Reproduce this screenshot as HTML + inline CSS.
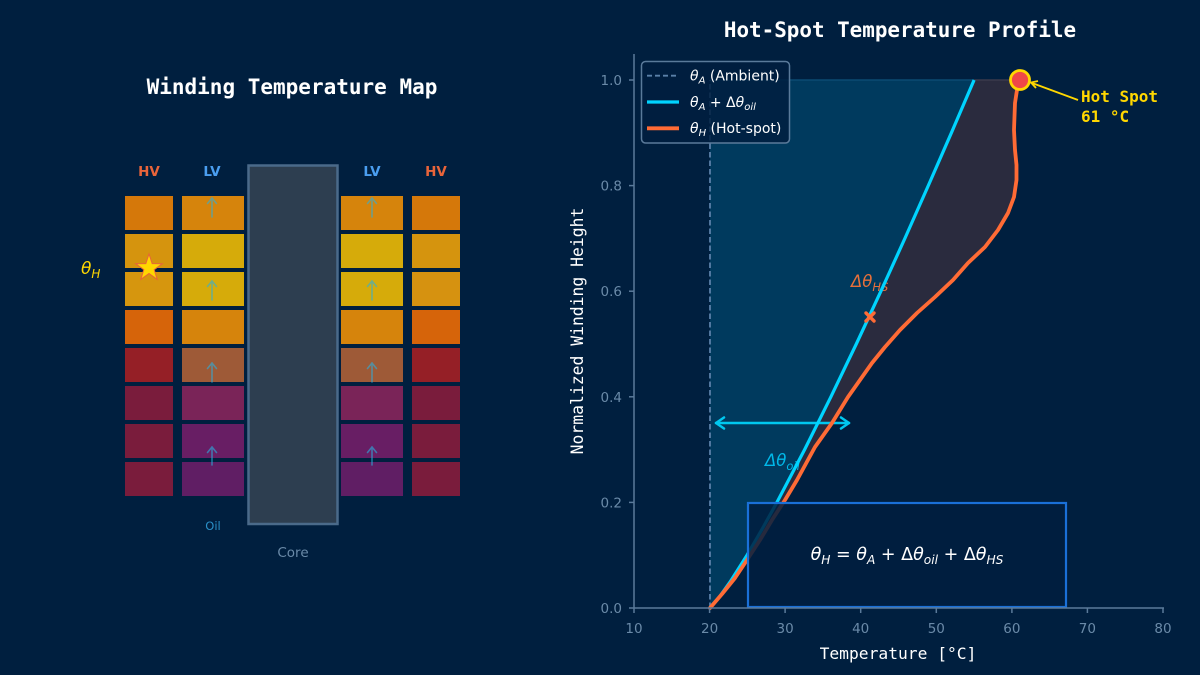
<!DOCTYPE html>
<html><head><meta charset="utf-8"><style>
html,body{margin:0;padding:0;background:#001f3f;}
svg{display:block;}
.mono{font-family:"DejaVu Sans Mono","Liberation Mono",monospace;}
.sans{font-family:"DejaVu Sans","Liberation Sans",sans-serif;}
</style></head><body>
<svg width="1200" height="675" viewBox="0 0 1200 675" xmlns="http://www.w3.org/2000/svg">
<rect width="1200" height="675" fill="#001f3f"/>

<!-- LEFT PANEL -->
<text x="292" y="94" text-anchor="middle" class="mono" font-size="21" font-weight="bold" fill="#ffffff">Winding Temperature Map</text>
<text x="149" y="176" text-anchor="middle" class="sans" font-size="13.5" font-weight="bold" fill="#e8643a">HV</text>
<text x="212" y="176" text-anchor="middle" class="sans" font-size="13.5" font-weight="bold" fill="#4a9ef0">LV</text>
<text x="372" y="176" text-anchor="middle" class="sans" font-size="13.5" font-weight="bold" fill="#4a9ef0">LV</text>
<text x="436" y="176" text-anchor="middle" class="sans" font-size="13.5" font-weight="bold" fill="#e8643a">HV</text>

<!-- core -->
<rect x="248.5" y="165.5" width="89" height="358.5" fill="#2d3e50" stroke="#4a6a8a" stroke-width="2.5"/>

<!-- HV left -->
<g>
<rect x="125" y="196" width="48" height="34" fill="#d5780a"/>
<rect x="125" y="234" width="48" height="34" fill="#d5940e"/>
<rect x="125" y="272" width="48" height="34" fill="#d6960e"/>
<rect x="125" y="310" width="48" height="34" fill="#d6640a"/>
<rect x="125" y="348" width="48" height="34" fill="#951f26"/>
<rect x="125" y="386" width="48" height="34" fill="#7a1c3c"/>
<rect x="125" y="424" width="48" height="34" fill="#7a1c3c"/>
<rect x="125" y="462" width="48" height="34" fill="#7a1c3c"/>
</g>
<!-- LV left -->
<g>
<rect x="182" y="196" width="62" height="34" fill="#d6840c"/>
<rect x="182" y="234" width="62" height="34" fill="#d6ab0a"/>
<rect x="182" y="272" width="62" height="34" fill="#d6ab0a"/>
<rect x="182" y="310" width="62" height="34" fill="#d6840c"/>
<rect x="182" y="348" width="62" height="34" fill="#9e5a37"/>
<rect x="182" y="386" width="62" height="34" fill="#7a2458"/>
<rect x="182" y="424" width="62" height="34" fill="#681e64"/>
<rect x="182" y="462" width="62" height="34" fill="#601e64"/>
</g>
<!-- LV right -->
<g>
<rect x="341" y="196" width="62" height="34" fill="#d6840c"/>
<rect x="341" y="234" width="62" height="34" fill="#d6ab0a"/>
<rect x="341" y="272" width="62" height="34" fill="#d6ab0a"/>
<rect x="341" y="310" width="62" height="34" fill="#d6840c"/>
<rect x="341" y="348" width="62" height="34" fill="#9e5a37"/>
<rect x="341" y="386" width="62" height="34" fill="#7a2458"/>
<rect x="341" y="424" width="62" height="34" fill="#681e64"/>
<rect x="341" y="462" width="62" height="34" fill="#601e64"/>
</g>
<!-- HV right -->
<g>
<rect x="412" y="196" width="48" height="34" fill="#d5780a"/>
<rect x="412" y="234" width="48" height="34" fill="#d5940e"/>
<rect x="412" y="272" width="48" height="34" fill="#d69210"/>
<rect x="412" y="310" width="48" height="34" fill="#d6640a"/>
<rect x="412" y="348" width="48" height="34" fill="#951f26"/>
<rect x="412" y="386" width="48" height="34" fill="#7a1c3c"/>
<rect x="412" y="424" width="48" height="34" fill="#7a1c3c"/>
<rect x="412" y="462" width="48" height="34" fill="#7a1c3c"/>
</g>

<!-- oil arrows -->
<g stroke="#2ab0e0" stroke-width="1.6" fill="none" opacity="0.6" stroke-linecap="round">
<line x1="212" y1="217" x2="212" y2="198"/><polyline points="207.5,203.5 212,198 216.5,203.5"/>
<line x1="212" y1="300" x2="212" y2="281"/><polyline points="207.5,286.5 212,281 216.5,286.5"/>
<line x1="212" y1="382" x2="212" y2="363"/><polyline points="207.5,368.5 212,363 216.5,368.5"/>
<line x1="212" y1="465" x2="212" y2="447"/><polyline points="207.5,452.5 212,447 216.5,452.5"/>
<line x1="372" y1="217" x2="372" y2="198"/><polyline points="367.5,203.5 372,198 376.5,203.5"/>
<line x1="372" y1="300" x2="372" y2="281"/><polyline points="367.5,286.5 372,281 376.5,286.5"/>
<line x1="372" y1="382" x2="372" y2="363"/><polyline points="367.5,368.5 372,363 376.5,368.5"/>
<line x1="372" y1="465" x2="372" y2="447"/><polyline points="367.5,452.5 372,447 376.5,452.5"/>
</g>

<!-- star -->
<polygon points="149,254 152.2,263.6 162.3,263.7 154.2,269.7 157.2,279.4 149,273.5 140.8,279.4 143.8,269.7 135.7,263.7 145.8,263.6" fill="#ffd700" stroke="#e8643a" stroke-width="1"/>
<text x="81" y="274" class="sans" font-size="17" font-style="italic" fill="#ffd700">θ<tspan font-size="12" dy="4">H</tspan></text>

<text x="213" y="530" text-anchor="middle" class="sans" font-size="11.5" fill="#2a90c8">Oil</text>
<text x="293" y="557" text-anchor="middle" class="sans" font-size="13.5" fill="#6a8aa8">Core</text>

<!-- RIGHT PANEL -->
<text x="900" y="37" text-anchor="middle" class="mono" font-size="20.9" font-weight="bold" fill="#ffffff">Hot-Spot Temperature Profile</text>

<!-- fills -->
<polygon fill="#003a5e" points="710,608 710,80 974.1,80 951.4,132.8 928.3,185.6 904.9,238.4 880.9,291.2 856.3,344 830.9,396.8 804.6,449.6 776.9,502.4 762.3,528.8 747,555.2 730.3,581.6 719.1,597.4 709.6,608"/>
<polygon fill="#2a2b3e" points="709.6,608 719.1,597.4 730.3,581.6 747,555.2 762.3,528.8 776.9,502.4 804.6,449.6 830.9,396.8 856.3,344 880.9,291.2 904.9,238.4 928.3,185.6 951.4,132.8 974.1,80 1020,80 1017,90 1015,103 1014,130 1015,150 1016.5,165 1016.5,180 1014,197 1008,213 998,230 985,247 968,263 953,280 935,297 917,313 900,330 885,347 872,363 860,380 848,397 832,423 815,447 797,480 785,500 772,520 760,540 747,560 735,578 722,594 710,608"/>
<line x1="710" y1="80" x2="974" y2="80" stroke="#0a4a72" stroke-width="1.5"/>
<line x1="974" y1="80" x2="1020" y2="80" stroke="#3a3a4c" stroke-width="1.5"/>

<!-- ambient dashed -->
<line x1="710" y1="608" x2="710" y2="80" stroke="#5a80a8" stroke-width="1.8" stroke-dasharray="5.5,3"/>

<!-- annotations inside -->
<g stroke="#00c8f0" stroke-width="2.5" fill="none" stroke-linecap="round" stroke-linejoin="round">
<line x1="716" y1="423" x2="849" y2="423"/>
<polyline points="724,417.5 716,423 724,428.5"/>
<polyline points="841,417.5 849,423 841,428.5"/>
</g>
<text x="765" y="466" class="sans" font-size="16.5" font-style="italic" fill="#00b8e8">Δθ<tspan font-size="11.5" dy="4">oil</tspan></text>
<text x="851" y="287" class="sans" font-size="16.5" font-style="italic" fill="#e8703a">Δθ<tspan font-size="11.5" dy="4">HS</tspan></text>

<!-- blue line -->
<polyline fill="none" stroke="#00d4ff" stroke-width="3.2" stroke-linejoin="round" points="709.6,608 719.1,597.4 730.3,581.6 747,555.2 762.3,528.8 776.9,502.4 804.6,449.6 830.9,396.8 856.3,344 880.9,291.2 904.9,238.4 928.3,185.6 951.4,132.8 974.1,80"/>
<!-- orange line -->
<polyline fill="none" stroke="#ff6b35" stroke-width="3.8" stroke-linejoin="round" stroke-linecap="round" points="710,608 722,594 735,578 747,560 760,540 772,520 785,500 797,480 815,447 832,423 848,397 860,380 872,363 885,347 900,330 917,313 935,297 953,280 968,263 985,247 998,230 1008,213 1014,197 1016.5,180 1016.5,165 1015,150 1014,130 1015,103 1017,90 1020,80"/>

<!-- X marker -->
<g stroke="#ff6b35" stroke-width="3.4" stroke-linecap="round">
<line x1="866" y1="313" x2="874" y2="321"/><line x1="874" y1="313" x2="866" y2="321"/>
</g>

<!-- formula box -->
<rect x="748" y="503" width="318" height="104" fill="#001f3f" fill-opacity="0.85" stroke="#1a70d8" stroke-width="2.2"/>
<text x="907" y="560" text-anchor="middle" class="sans" font-size="17.5" fill="#ffffff"><tspan font-style="italic">θ</tspan><tspan font-size="12.2" dy="4" font-style="italic">H</tspan><tspan dy="-4"> = </tspan><tspan font-style="italic">θ</tspan><tspan font-size="12.2" dy="4" font-style="italic">A</tspan><tspan dy="-4"> + Δ</tspan><tspan font-style="italic">θ</tspan><tspan font-size="12.2" dy="4" font-style="italic">oil</tspan><tspan dy="-4"> + Δ</tspan><tspan font-style="italic">θ</tspan><tspan font-size="12.2" dy="4" font-style="italic">HS</tspan></text>

<!-- hot spot -->
<line x1="1078" y1="100" x2="1032" y2="83" stroke="#ffd700" stroke-width="1.8"/>
<polyline points="1038,81 1031,82.5 1036,88" fill="none" stroke="#ffd700" stroke-width="1.8"/>
<circle cx="1020" cy="80" r="9.5" fill="#f04848" stroke="#ffd700" stroke-width="2.8"/>
<text x="1081" y="102" class="mono" font-size="16" font-weight="bold" fill="#ffd700">Hot Spot</text>
<text x="1081" y="122" class="mono" font-size="16" font-weight="bold" fill="#ffd700">61 °C</text>

<!-- axes -->
<g stroke="#5a7a9a" stroke-width="1.5">
<line x1="634" y1="54" x2="634" y2="608"/>
<line x1="634" y1="608" x2="1164" y2="608"/>
<line x1="629" y1="608" x2="634" y2="608"/>
<line x1="629" y1="502.4" x2="634" y2="502.4"/>
<line x1="629" y1="396.8" x2="634" y2="396.8"/>
<line x1="629" y1="291.2" x2="634" y2="291.2"/>
<line x1="629" y1="185.6" x2="634" y2="185.6"/>
<line x1="629" y1="80" x2="634" y2="80"/>
<line x1="634" y1="608" x2="634" y2="613"/>
<line x1="709.6" y1="608" x2="709.6" y2="613"/>
<line x1="785.1" y1="608" x2="785.1" y2="613"/>
<line x1="860.7" y1="608" x2="860.7" y2="613"/>
<line x1="936.3" y1="608" x2="936.3" y2="613"/>
<line x1="1011.9" y1="608" x2="1011.9" y2="613"/>
<line x1="1087.4" y1="608" x2="1087.4" y2="613"/>
<line x1="1163" y1="608" x2="1163" y2="613"/>
</g>
<g class="sans" font-size="13.5" fill="#6a8aa8" text-anchor="end">
<text x="622" y="613">0.0</text>
<text x="622" y="507.4">0.2</text>
<text x="622" y="401.8">0.4</text>
<text x="622" y="296.2">0.6</text>
<text x="622" y="190.6">0.8</text>
<text x="622" y="85">1.0</text>
</g>
<g class="sans" font-size="13.5" fill="#6a8aa8" text-anchor="middle">
<text x="634" y="633">10</text>
<text x="709.6" y="633">20</text>
<text x="785.1" y="633">30</text>
<text x="860.7" y="633">40</text>
<text x="936.3" y="633">50</text>
<text x="1011.9" y="633">60</text>
<text x="1087.4" y="633">70</text>
<text x="1163" y="633">80</text>
</g>
<text x="898" y="659" text-anchor="middle" class="mono" font-size="16.3" fill="#ffffff">Temperature [°C]</text>
<text transform="translate(583,331) rotate(-90)" text-anchor="middle" class="mono" font-size="16.4" fill="#ffffff">Normalized Winding Height</text>

<!-- legend -->
<rect x="641.5" y="61.5" width="148" height="81.5" rx="4" fill="#001f3f" fill-opacity="0.85" stroke="#5a7a9a" stroke-width="1.5"/>
<line x1="647" y1="75.7" x2="679" y2="75.7" stroke="#5a80a8" stroke-width="1.8" stroke-dasharray="5,3"/>
<line x1="647" y1="102" x2="679" y2="102" stroke="#00d4ff" stroke-width="3.2"/>
<line x1="647" y1="128.3" x2="679" y2="128.3" stroke="#ff6b35" stroke-width="3.8"/>
<g class="sans" font-size="14" fill="#ffffff">
<text x="690" y="80.5"><tspan font-style="italic">θ</tspan><tspan font-size="10" dy="3" font-style="italic">A</tspan><tspan dy="-3"> (Ambient)</tspan></text>
<text x="690" y="107"><tspan font-style="italic">θ</tspan><tspan font-size="10" dy="3" font-style="italic">A</tspan><tspan dy="-3"> + Δ</tspan><tspan font-style="italic">θ</tspan><tspan font-size="10" dy="3" font-style="italic">oil</tspan></text>
<text x="690" y="133"><tspan font-style="italic">θ</tspan><tspan font-size="10" dy="3" font-style="italic">H</tspan><tspan dy="-3"> (Hot-spot)</tspan></text>
</g>
</svg>
</body></html>
